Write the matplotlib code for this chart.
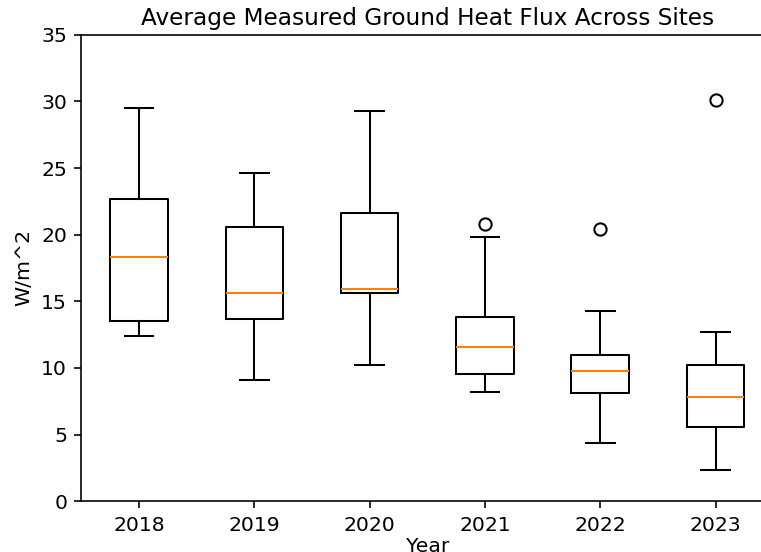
import matplotlib
matplotlib.use("Agg")
import matplotlib.pyplot as plt

# resumen por año del flujo de calor del suelo (W/m^2)
years = ["2018", "2019", "2020", "2021", "2022", "2023"]
whislo = [12.4, 9.1, 10.2, 8.2, 4.35, 2.35]
q1 = [13.55, 13.7, 15.6, 9.55, 8.1, 5.6]
med = [18.3, 15.65, 15.9, 11.55, 9.75, 7.85]
q3 = [22.7, 20.55, 21.65, 13.85, 10.95, 10.2]
whishi = [29.5, 24.6, 29.3, 19.85, 14.3, 12.7]
fliers = [[], [], [], [20.8], [20.45], [30.1]]

stats = []
for i in range(len(years)):
    stats.append({
        "label": years[i],
        "whislo": whislo[i],
        "q1": q1[i],
        "med": med[i],
        "q3": q3[i],
        "whishi": whishi[i],
        "fliers": fliers[i],
    })

dpi = 147
fig, ax = plt.subplots(figsize=(761 / dpi, 552 / dpi), dpi=dpi)
fig.subplots_adjust(left=0.107, right=1.016, top=0.937, bottom=0.092)
ax.bxp(stats)
ax.set_ylim(0, 35)
ax.set_title("Average Measured Ground Heat Flux Across Sites", fontsize=11.3, pad=5)
ax.set_xlabel("Year", labelpad=1)
ax.set_ylabel("W/m^2")
fig.savefig("out.png", dpi=dpi)
